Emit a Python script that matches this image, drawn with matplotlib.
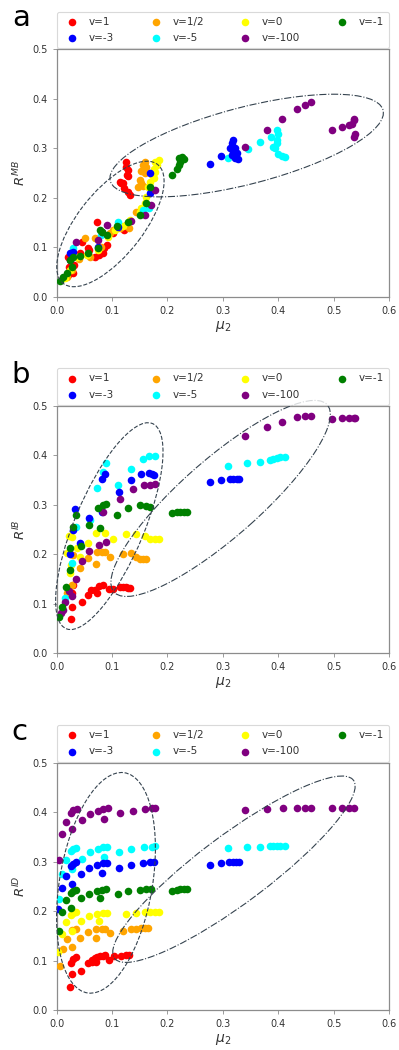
import matplotlib
matplotlib.use("Agg")
import matplotlib.pyplot as plt
from matplotlib.patches import Ellipse

plt.rcParams['font.family'] = ['DejaVu Sans']

LABELS = ["v=1", "v=1/2", "v=0", "v=-1", "v=-3", "v=-5", "v=-100"]
COLORS = ["red", "orange", "yellow", "green", "blue", "cyan", "purple"]
PANELS = ["a", "b", "c"]
YLABELS = ["$R^{MB}$", "$R^{IB}$", "$R^{ID}$"]
XTICKS = [0.0, 0.1, 0.2, 0.3, 0.4, 0.5, 0.6]
YTICKS = [0.0, 0.1, 0.2, 0.3, 0.4, 0.5]

# ---------------- panel a ----------------
A_RED_X = [0.011, 0.020, 0.029, 0.023, 0.032, 0.021, 0.042, 0.045, 0.056, 0.059, 0.069, 0.072, 0.077, 0.083, 0.086, 0.090, 0.102, 0.122,
           0.114, 0.117, 0.119, 0.122, 0.125, 0.125, 0.127, 0.128, 0.129, 0.129, 0.133]
A_RED_Y = [0.037, 0.044, 0.047, 0.061, 0.064, 0.081, 0.088, 0.111, 0.098, 0.094, 0.081, 0.150, 0.084, 0.088, 0.098, 0.104, 0.128, 0.135,
           0.232, 0.230, 0.229, 0.219, 0.273, 0.262, 0.246, 0.243, 0.256, 0.212, 0.206]
A_ORA_X = [0.018, 0.027, 0.041, 0.051, 0.060, 0.069, 0.080, 0.096, 0.101, 0.114, 0.126, 0.131, 0.144,
           0.147, 0.150, 0.153, 0.156, 0.153, 0.160, 0.162, 0.156, 0.160]
A_ORA_Y = [0.040, 0.054, 0.077, 0.118, 0.081, 0.118, 0.100, 0.128, 0.135, 0.138, 0.145, 0.138, 0.172,
           0.222, 0.236, 0.229, 0.224, 0.255, 0.249, 0.263, 0.266, 0.273]
A_YEL_X = [0.015, 0.024, 0.036, 0.054, 0.075, 0.093, 0.105, 0.120, 0.132, 0.150, 0.153, 0.159, 0.162, 0.165, 0.169,
           0.175, 0.172, 0.178, 0.175, 0.181, 0.178, 0.184]
A_YEL_Y = [0.037, 0.054, 0.081, 0.084, 0.094, 0.121, 0.135, 0.142, 0.155, 0.172, 0.179, 0.189, 0.202, 0.222, 0.232,
           0.239, 0.246, 0.253, 0.259, 0.266, 0.273, 0.276]
A_GRN_X = [0.006, 0.012, 0.018, 0.027, 0.024, 0.030, 0.042, 0.057, 0.075, 0.078, 0.081, 0.090, 0.108, 0.129, 0.150, 0.162,
           0.169, 0.208, 0.217, 0.220, 0.223, 0.229, 0.226, 0.220]
A_GRN_Y = [0.032, 0.039, 0.047, 0.061, 0.074, 0.081, 0.082, 0.088, 0.098, 0.135, 0.131, 0.125, 0.142, 0.150, 0.165, 0.189,
           0.222, 0.246, 0.259, 0.266, 0.273, 0.278, 0.282, 0.280]
A_BLU_X = [0.024, 0.030, 0.075, 0.110, 0.169, 0.169, 0.277, 0.297, 0.313, 0.316, 0.318, 0.322, 0.319, 0.325, 0.316, 0.322, 0.328]
A_BLU_Y = [0.088, 0.091, 0.100, 0.140, 0.209, 0.249, 0.268, 0.284, 0.300, 0.310, 0.317, 0.300, 0.293, 0.290, 0.286, 0.280, 0.278]
A_CYA_X = [0.030, 0.080, 0.111, 0.155, 0.166, 0.309, 0.346, 0.367, 0.387, 0.398, 0.400, 0.398, 0.397, 0.391, 0.394, 0.400, 0.406, 0.412]
A_CYA_Y = [0.098, 0.125, 0.150, 0.175, 0.179, 0.280, 0.298, 0.312, 0.323, 0.336, 0.328, 0.317, 0.310, 0.303, 0.300, 0.288, 0.284, 0.283]
A_PUR_X = [0.024, 0.035, 0.075, 0.081, 0.090, 0.135, 0.159, 0.170, 0.178, 0.340, 0.379, 0.406, 0.433, 0.448, 0.460,
           0.497, 0.515, 0.527, 0.533, 0.536, 0.537, 0.539, 0.537]
A_PUR_Y = [0.074, 0.111, 0.115, 0.131, 0.145, 0.152, 0.165, 0.185, 0.216, 0.302, 0.337, 0.359, 0.379, 0.387, 0.393,
           0.337, 0.342, 0.347, 0.350, 0.357, 0.360, 0.329, 0.323]

# ---------------- panel b ----------------
B_RED_X = [0.025, 0.027, 0.030, 0.028, 0.045, 0.056, 0.062, 0.069, 0.072, 0.077, 0.084, 0.095, 0.102, 0.114, 0.120, 0.125, 0.129, 0.132]
B_RED_Y = [0.069, 0.121, 0.138, 0.093, 0.104, 0.118, 0.127, 0.128, 0.121, 0.137, 0.138, 0.129, 0.129, 0.135, 0.133, 0.133, 0.131, 0.131]
B_ORA_X = [0.018, 0.027, 0.030, 0.042, 0.057, 0.071, 0.072, 0.081, 0.087, 0.097, 0.119, 0.135, 0.144, 0.150, 0.156, 0.162, 0.024]
B_ORA_Y = [0.121, 0.138, 0.199, 0.172, 0.192, 0.180, 0.204, 0.204, 0.204, 0.195, 0.201, 0.202, 0.195, 0.191, 0.191, 0.191, 0.200]
B_YEL_X = [0.018, 0.023, 0.024, 0.025, 0.027, 0.036, 0.042, 0.057, 0.071, 0.087, 0.102, 0.125, 0.144, 0.159, 0.168, 0.178, 0.184]
B_YEL_Y = [0.202, 0.237, 0.162, 0.179, 0.236, 0.212, 0.195, 0.222, 0.243, 0.243, 0.232, 0.241, 0.241, 0.238, 0.230, 0.230, 0.230]
B_GRN_X = [0.005, 0.009, 0.017, 0.024, 0.024, 0.030, 0.035, 0.043, 0.058, 0.078, 0.075, 0.084, 0.089, 0.108, 0.129, 0.150,
           0.161, 0.169, 0.208, 0.217, 0.223, 0.229, 0.235]
B_GRN_Y = [0.073, 0.094, 0.133, 0.168, 0.212, 0.256, 0.280, 0.217, 0.259, 0.253, 0.293, 0.300, 0.302, 0.280, 0.294, 0.299,
           0.297, 0.295, 0.284, 0.285, 0.286, 0.286, 0.286]
B_BLU_X = [0.024, 0.029, 0.033, 0.042, 0.059, 0.081, 0.082, 0.087, 0.112, 0.134, 0.153, 0.166, 0.172, 0.176,
           0.277, 0.297, 0.313, 0.319, 0.325, 0.330]
B_BLU_Y = [0.200, 0.249, 0.291, 0.222, 0.274, 0.286, 0.352, 0.362, 0.325, 0.350, 0.363, 0.365, 0.362, 0.361,
           0.346, 0.350, 0.352, 0.352, 0.352, 0.352]
B_CYA_X = [0.015, 0.027, 0.035, 0.060, 0.073, 0.083, 0.089, 0.111, 0.134, 0.156, 0.167, 0.178,
           0.309, 0.344, 0.367, 0.385, 0.391, 0.397, 0.403, 0.412]
B_CYA_Y = [0.111, 0.182, 0.256, 0.270, 0.334, 0.367, 0.385, 0.340, 0.372, 0.393, 0.398, 0.398,
           0.379, 0.384, 0.387, 0.391, 0.393, 0.394, 0.396, 0.396]
B_PUR_X = [0.007, 0.012, 0.015, 0.023, 0.027, 0.035, 0.045, 0.059, 0.077, 0.089, 0.084, 0.114, 0.138, 0.158, 0.169, 0.178,
           0.340, 0.379, 0.407, 0.433, 0.448, 0.460, 0.497, 0.515, 0.527, 0.536, 0.539]
B_PUR_Y = [0.081, 0.088, 0.104, 0.125, 0.115, 0.150, 0.187, 0.206, 0.218, 0.224, 0.286, 0.312, 0.332, 0.340, 0.340, 0.342,
           0.439, 0.457, 0.468, 0.478, 0.480, 0.480, 0.473, 0.476, 0.476, 0.476, 0.475]

# ---------------- panel c ----------------
C_RED_X = [0.024, 0.028, 0.026, 0.034, 0.030, 0.044, 0.056, 0.063, 0.064, 0.069, 0.071, 0.072, 0.078, 0.083, 0.087, 0.095,
           0.104, 0.116, 0.125, 0.130]
C_RED_Y = [0.047, 0.072, 0.094, 0.108, 0.103, 0.079, 0.094, 0.101, 0.098, 0.105, 0.097, 0.108, 0.109, 0.110, 0.111, 0.101,
           0.109, 0.110, 0.112, 0.111]
C_ORA_X = [0.006, 0.011, 0.018, 0.027, 0.027, 0.035, 0.042, 0.057, 0.071, 0.071, 0.081, 0.087, 0.097, 0.119, 0.135, 0.144,
           0.153, 0.159, 0.165]
C_ORA_Y = [0.088, 0.123, 0.143, 0.162, 0.127, 0.164, 0.145, 0.157, 0.164, 0.145, 0.164, 0.164, 0.155, 0.160, 0.164, 0.164,
           0.166, 0.166, 0.166]
C_YEL_X = [0.003, 0.009, 0.017, 0.025, 0.030, 0.035, 0.027, 0.044, 0.059, 0.073, 0.083, 0.090, 0.077, 0.125, 0.144, 0.159,
           0.168, 0.178, 0.185]
C_YEL_Y = [0.118, 0.154, 0.177, 0.191, 0.196, 0.198, 0.159, 0.180, 0.189, 0.195, 0.196, 0.197, 0.180, 0.195, 0.197, 0.198,
           0.198, 0.199, 0.199]
C_GRN_X = [0.005, 0.009, 0.017, 0.025, 0.025, 0.030, 0.035, 0.044, 0.059, 0.073, 0.081, 0.089, 0.078, 0.110, 0.129, 0.150,
           0.162, 0.170, 0.209, 0.217, 0.223, 0.229, 0.235]
C_GRN_Y = [0.159, 0.199, 0.223, 0.206, 0.236, 0.240, 0.243, 0.226, 0.235, 0.241, 0.243, 0.245, 0.226, 0.235, 0.240, 0.243,
           0.245, 0.245, 0.240, 0.243, 0.245, 0.245, 0.245]
C_BLU_X = [0.003, 0.009, 0.017, 0.025, 0.030, 0.035, 0.027, 0.044, 0.059, 0.073, 0.083, 0.090, 0.081, 0.113, 0.135, 0.155,
           0.169, 0.176, 0.277, 0.297, 0.312, 0.318, 0.324, 0.330]
C_BLU_Y = [0.204, 0.247, 0.270, 0.291, 0.295, 0.299, 0.255, 0.275, 0.287, 0.294, 0.297, 0.297, 0.277, 0.287, 0.294, 0.297,
           0.299, 0.299, 0.294, 0.297, 0.299, 0.299, 0.299, 0.299]
C_CYA_X = [0.005, 0.009, 0.017, 0.025, 0.030, 0.035, 0.027, 0.045, 0.060, 0.075, 0.083, 0.090, 0.085, 0.113, 0.135, 0.158,
           0.172, 0.178, 0.309, 0.344, 0.367, 0.385, 0.391, 0.397, 0.403, 0.412]
C_CYA_Y = [0.224, 0.274, 0.304, 0.321, 0.326, 0.328, 0.284, 0.305, 0.319, 0.326, 0.329, 0.330, 0.309, 0.319, 0.326, 0.329,
           0.330, 0.331, 0.328, 0.330, 0.330, 0.331, 0.331, 0.331, 0.331, 0.331]
C_PUR_X = [0.005, 0.009, 0.017, 0.025, 0.030, 0.036, 0.027, 0.045, 0.060, 0.075, 0.084, 0.092, 0.085, 0.114, 0.138, 0.159,
           0.172, 0.178, 0.340, 0.379, 0.408, 0.433, 0.448, 0.460, 0.497, 0.515, 0.527, 0.536]
C_PUR_Y = [0.304, 0.355, 0.380, 0.399, 0.404, 0.407, 0.365, 0.385, 0.397, 0.403, 0.407, 0.408, 0.386, 0.399, 0.403, 0.407,
           0.409, 0.409, 0.405, 0.407, 0.409, 0.409, 0.409, 0.409, 0.409, 0.409, 0.409, 0.409]

SERIES = [
    [(A_RED_X, A_RED_Y), (A_ORA_X, A_ORA_Y), (A_YEL_X, A_YEL_Y), (A_GRN_X, A_GRN_Y),
     (A_BLU_X, A_BLU_Y), (A_CYA_X, A_CYA_Y), (A_PUR_X, A_PUR_Y)],
    [(B_RED_X, B_RED_Y), (B_ORA_X, B_ORA_Y), (B_YEL_X, B_YEL_Y), (B_GRN_X, B_GRN_Y),
     (B_BLU_X, B_BLU_Y), (B_CYA_X, B_CYA_Y), (B_PUR_X, B_PUR_Y)],
    [(C_RED_X, C_RED_Y), (C_ORA_X, C_ORA_Y), (C_YEL_X, C_YEL_Y), (C_GRN_X, C_GRN_Y),
     (C_BLU_X, C_BLU_Y), (C_CYA_X, C_CYA_Y), (C_PUR_X, C_PUR_Y)],
]

# ellipses: (center, width, height, angle, linestyle)
ELLIPSES = [
    [((0.097, 0.147), 0.295, 0.122, 55.9, '--'), ((0.343, 0.3055), 0.513, 0.154, 16.5, '-.')],
    [((0.095, 0.257), 0.443, 0.127, 69.8, '--'), ((0.296, 0.313), 0.540, 0.150, 45.0, '-.')],
    [((0.089, 0.257), 0.450, 0.168, 81.7, '--'), ((0.320, 0.2845), 0.562, 0.133, 40.2, '-.')],
]

W, H = 399, 1050
fig = plt.figure(figsize=(W / 100, H / 100), dpi=100)

ax_left, ax_w, ax_h = 56.7 / W, 332.3 / W, 247.4 / H
ax_bottoms = [1 - 296.7 / H, 1 - 653.3 / H, 1 - 1010.0 / H]

draw_order = [0, 1, 2, 5, 4, 6, 3]
legend_order = [0, 4, 1, 5, 2, 6, 3]
SPINE = '#8c8c8c'
TXT = '#333333'
ELC = '#35434f'

for p in range(3):
    ax = fig.add_axes([ax_left, ax_bottoms[p], ax_w, ax_h])
    handles = [None] * 7
    for i in draw_order:
        xs, ys = SERIES[p][i]
        handles[i] = ax.scatter(xs, ys, s=30, c=COLORS[i], label=LABELS[i], linewidths=0, zorder=3)
    for (c, w, h, ang, ls) in ELLIPSES[p]:
        e = Ellipse(c, w, h, angle=ang, fill=False, edgecolor=ELC, linestyle=ls, linewidth=0.8, zorder=4, clip_on=False)
        ax.add_patch(e)
    ax.set_xlim(0, 0.6)
    ax.set_ylim(0, 0.5)
    ax.set_xticks(XTICKS)
    ax.set_yticks(YTICKS)
    ax.set_xticklabels([f"{t:.1f}" for t in XTICKS])
    ax.set_yticklabels([f"{t:.1f}" for t in YTICKS])
    ax.tick_params(labelsize=7, colors=TXT, length=3, width=0.6)
    ax.tick_params(color=SPINE)
    for sp in ax.spines.values():
        sp.set_color(SPINE)
        sp.set_linewidth(0.9)
    ax.set_xlabel("$\\mu_2$", fontsize=10, color=TXT, labelpad=2)
    ax.set_ylabel(YLABELS[p], fontsize=9.5, color=TXT, labelpad=3)
    leg = ax.legend([handles[k] for k in legend_order], [LABELS[k] for k in legend_order],
                    loc='lower left', bbox_to_anchor=(0, 1.004, 1, 0.15), mode='expand', ncol=4,
                    borderaxespad=0, fontsize=7.5, frameon=True, fancybox=True,
                    handletextpad=0.6, labelspacing=0.6, borderpad=0.5)
    leg.get_frame().set_edgecolor('#d0d0d0')
    leg.get_frame().set_linewidth(0.8)
    for t in leg.get_texts():
        t.set_color(TXT)
    ax.text(-0.135, 1.093, PANELS[p], transform=ax.transAxes, fontsize=21, va='baseline', ha='left', color='black')

fig.savefig("out.png", dpi=100)
